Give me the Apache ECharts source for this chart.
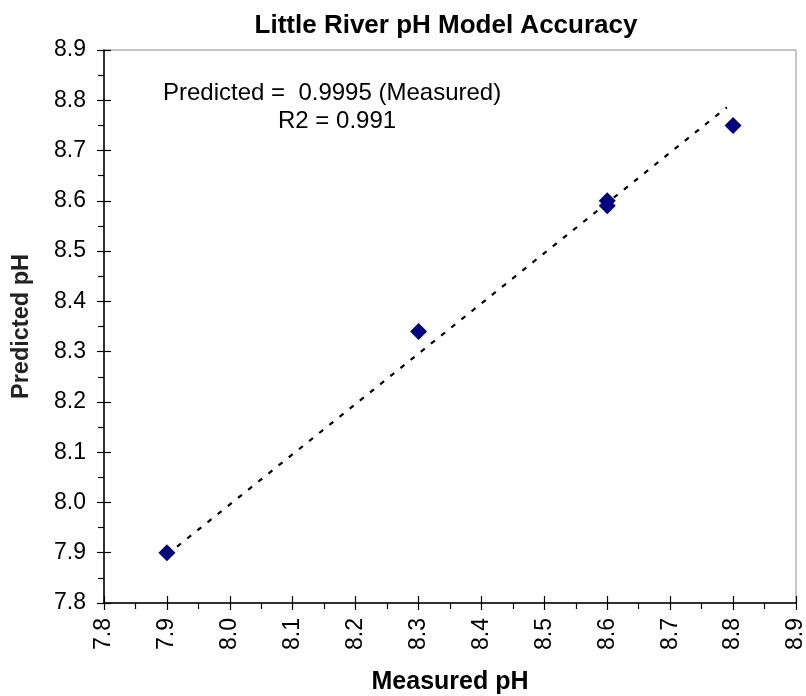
<!DOCTYPE html>
<html>
<head>
<meta charset="utf-8">
<script src="https://cdn.jsdelivr.net/npm/echarts@6/dist/echarts.min.js"></script>
<style>
  html, body { margin: 0; padding: 0; background: #fff; }
  #chart { width: 806px; height: 696px; }
</style>
</head>
<body>
<div id="chart"></div>
<script>
// measured vs predicted pH
const measured = [7.9, 8.3, 8.6, 8.6, 8.8];
const predicted = [7.90, 8.34, 8.60, 8.59, 8.75];
// trend line end points (Predicted = 0.9995 * Measured)
const trendX = [7.9, 8.79];
const trendY = [7.896, 8.786];
const axisMin = 7.8;
const axisMax = 8.9;
const step = 0.1;

const points = measured.map((m, i) => [m, predicted[i]]);
const trend = trendX.map((x, i) => [x, trendY[i]]);

const font = 'Liberation Sans, Arial, sans-serif';
const fmt = v => v.toFixed(1);

const chart = echarts.init(document.getElementById('chart'));

// main axis: labels + outside ticks
const mainAxis = (isX) => ({
  type: 'value',
  min: axisMin,
  max: axisMax,
  interval: step,
  position: isX ? 'bottom' : 'left',
  name: isX ? 'Measured pH' : 'Predicted pH',
  nameLocation: 'middle',
  nameGap: isX ? 67 : 70,
  nameTextStyle: {
    fontFamily: font,
    fontWeight: 'bold',
    fontSize: isX ? 25 : 23.5,
    color: isX ? '#000' : '#222'
  },
  axisLine: { show: true, onZero: false, lineStyle: { color: '#000', width: 1.5 } },
  axisTick: { show: true, inside: false, length: 7, lineStyle: { color: '#000', width: 1.2 } },
  minorTick: { show: true, splitNumber: 2, length: 6, lineStyle: { color: '#000', width: 1.2 } },
  axisLabel: {
    fontFamily: font,
    fontSize: 23,
    color: '#000',
    rotate: isX ? 90 : 0,
    margin: isX ? 15 : 18,
    formatter: fmt,
    showMinLabel: true,
    showMaxLabel: true
  },
  splitLine: { show: false }
});

// inside half of the crossing major ticks
const innerAxis = (isX) => ({
  type: 'value',
  min: axisMin,
  max: axisMax,
  interval: step,
  position: isX ? 'bottom' : 'left',
  axisLine: { show: false, onZero: false },
  axisTick: { show: true, inside: true, length: 7, lineStyle: { color: '#000', width: 1.2 } },
  axisLabel: { show: false },
  splitLine: { show: false }
});

const option = {
  backgroundColor: '#fff',
  animation: false,
  title: {
    text: 'Little River pH Model Accuracy',
    left: 441,
    textAlign: 'center',
    top: 8,
    textStyle: { fontFamily: font, fontWeight: 'bold', fontSize: 26, color: '#000' }
  },
  grid: {
    left: 104,
    right: 10,
    top: 50,
    bottom: 93,
    outerBoundsMode: 'none',
    containLabel: false,
    show: true,
    borderColor: '#8c8c8c',
    borderWidth: 1,
    backgroundColor: '#fff'
  },
  xAxis: [mainAxis(true), innerAxis(true)],
  yAxis: [mainAxis(false), innerAxis(false)],
  graphic: [
    {
      type: 'text',
      left: 163,
      top: 81,
      style: { text: 'Predicted =  0.9995 (Measured)', fontFamily: font, fontSize: 24, fill: '#000' }
    },
    {
      type: 'text',
      left: 278,
      top: 109,
      style: { text: 'R2 = 0.991', fontFamily: font, fontSize: 24, fill: '#000' }
    }
  ],
  series: [
    {
      name: 'Trend',
      type: 'line',
      data: trend,
      symbol: 'none',
      lineStyle: { color: '#000', width: 2.2, type: [5, 8] },
      z: 2
    },
    {
      name: 'pH',
      type: 'scatter',
      data: points,
      symbol: 'diamond',
      symbolSize: 17,
      itemStyle: { color: '#000080', opacity: 1 },
      z: 3
    }
  ]
};

chart.setOption(option);
window.addEventListener('resize', function () {
  chart.resize();
});
</script>
</body>
</html>
